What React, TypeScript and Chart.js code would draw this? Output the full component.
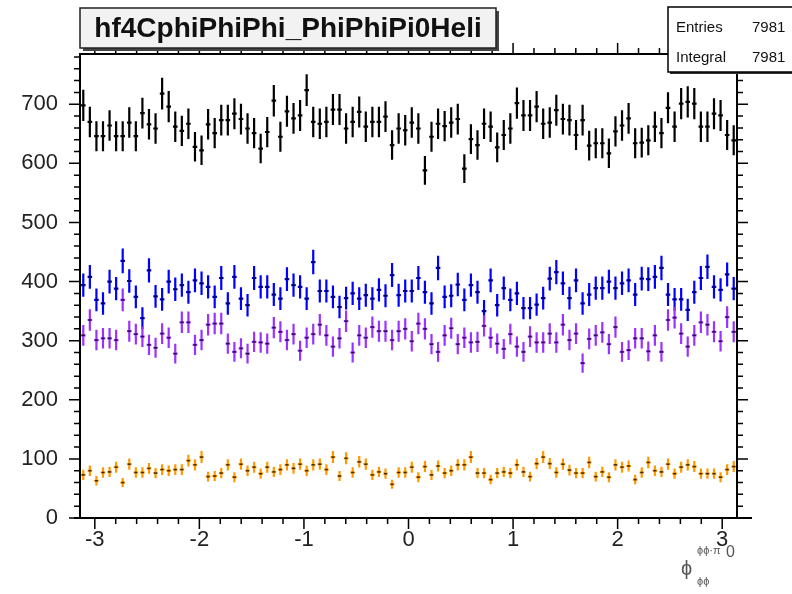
import React, { useEffect, useRef } from "react";
import { Chart, registerables } from "chart.js";

Chart.register(...registerables);

const N_BINS = 100;
const X_MIN = -Math.PI;
const X_MAX = Math.PI;
const Y_MIN = 0;
const Y_MAX = 785;
const xTickValues = [-3, -2, -1, 0, 1, 2, 3];
const yTickValues = [0, 100, 200, 300, 400, 500, 600, 700];
const titleText = "hf4CphiPhiPhi_PhiPhiPi0Heli";
const statsLabels = ["Entries", "Integral"];
const statsValues = ["7981", "7981"];

const blackValues = [
  698, 670, 646, 646, 664, 646, 646, 669, 646, 685, 666, 659, 718, 696, 662, 655, 667, 628, 622, 666,
  651, 673, 673, 684, 675, 659, 651, 625, 653, 706, 645, 688, 676, 681, 724, 670, 667, 670, 691, 691,
  659, 670, 687, 662, 670, 670, 679, 631, 659, 656, 669, 659, 588, 645, 667, 663, 669, 675, 591, 641,
  631, 667, 662, 627, 648, 659, 702, 681, 681, 696, 667, 669, 690, 675, 673, 648, 673, 630, 634, 634,
  617, 654, 664, 676, 634, 635, 639, 662, 651, 694, 662, 701, 704, 701, 662, 662, 684, 681, 648, 639,
];
const blueValues = [
  394, 408, 369, 363, 400, 388, 435, 401, 374, 338, 419, 375, 370, 400, 387, 394, 382, 402, 397, 391,
  374, 406, 363, 408, 371, 360, 406, 391, 391, 378, 371, 404, 394, 391, 371, 433, 384, 384, 374, 357,
  372, 380, 371, 377, 371, 386, 376, 411, 377, 384, 384, 406, 382, 363, 423, 374, 376, 395, 369, 394,
  382, 350, 402, 360, 389, 369, 380, 355, 355, 361, 372, 405, 416, 397, 372, 402, 363, 378, 389, 389,
  400, 389, 397, 402, 378, 405, 404, 408, 423, 378, 370, 370, 352, 382, 406, 425, 391, 386, 412, 388,
];
const purpleValues = [
  309, 335, 301, 304, 304, 301, 369, 316, 311, 307, 293, 288, 312, 305, 278, 331, 331, 293, 301, 327,
  329, 329, 295, 281, 287, 278, 298, 297, 295, 322, 315, 301, 311, 283, 305, 311, 327, 309, 290, 304,
  333, 280, 309, 305, 323, 316, 316, 301, 316, 320, 299, 329, 320, 294, 281, 309, 321, 294, 305, 297,
  298, 325, 305, 295, 286, 311, 290, 281, 307, 297, 297, 312, 297, 327, 301, 312, 262, 303, 309, 314,
  294, 323, 281, 284, 304, 304, 282, 309, 281, 335, 339, 312, 290, 309, 331, 327, 315, 299, 340, 315,
];
const orangeValues = [
  73, 80, 63, 77, 78, 86, 60, 91, 77, 77, 84, 76, 82, 80, 82, 82, 97, 90, 103, 70,
  71, 76, 90, 69, 91, 80, 86, 75, 86, 78, 82, 90, 84, 91, 80, 90, 91, 82, 103, 71,
  101, 77, 95, 91, 73, 78, 75, 57, 77, 77, 86, 69, 87, 73, 88, 76, 80, 90, 90, 103,
  76, 76, 65, 76, 78, 76, 90, 78, 70, 92, 103, 92, 77, 91, 81, 76, 76, 94, 70, 78,
  69, 90, 86, 88, 65, 77, 94, 80, 78, 91, 75, 86, 90, 87, 75, 75, 75, 69, 82, 87,
];

const seriesValues = [blackValues, blueValues, purpleValues, orangeValues];
const seriesColors = ["#000000", "#0000ff", "#9933ff", "#ff9900"];

const BIN_W = (X_MAX - X_MIN) / N_BINS;
const binCenters = Array.from({ length: N_BINS }, (_, i) => X_MIN + (i + 0.5) * BIN_W);

const FONT = "'Liberation Sans', 'DejaVu Sans', Arial, sans-serif";

const rootPlugin = {
  id: "rootStyle",
  afterDatasetsDraw(chart: any) {
    const ctx = chart.ctx;
    const xs = chart.scales.x;
    const ys = chart.scales.y;
    ctx.save();
    chart.data.datasets.forEach((ds: any, di: number) => {
      const meta = chart.getDatasetMeta(di);
      const color = ds.borderColor;
      meta.data.forEach((el: any, j: number) => {
        const v = ds.data[j].y;
        const x = ds.data[j].x;
        const err = Math.sqrt(v);
        const px = el.x;
        const py = el.y;
        const yt = ys.getPixelForValue(v + err);
        const yb = ys.getPixelForValue(v - err);
        const hw = Math.abs(xs.getPixelForValue(x + BIN_W * 0.35) - px);
        ctx.strokeStyle = color;
        ctx.lineWidth = 2.2;
        ctx.beginPath();
        ctx.moveTo(px, yt);
        ctx.lineTo(px, yb);
        ctx.moveTo(px - hw, py);
        ctx.lineTo(px + hw, py);
        ctx.stroke();
        if (di > 0) {
          ctx.strokeStyle = "rgba(0,0,0,0.75)";
          ctx.lineWidth = 1.5;
          ctx.beginPath();
          ctx.moveTo(px - 1.5, py);
          ctx.lineTo(px + 1.5, py);
          ctx.stroke();
        }
      });
    });
    ctx.restore();
  },
  afterDraw(chart: any) {
    const ctx = chart.ctx;
    const a = chart.chartArea;
    const xs = chart.scales.x;
    const ys = chart.scales.y;
    ctx.save();
    ctx.strokeStyle = "#000";
    ctx.lineWidth = 2;
    ctx.strokeRect(a.left, a.top, a.right - a.left, a.bottom - a.top);
    ctx.beginPath();
    ctx.moveTo(a.left - 6, a.bottom);
    ctx.lineTo(a.right + 15, a.bottom);
    ctx.stroke();
    ctx.lineWidth = 1.5;
    ctx.beginPath();
    // x ticks (bottom + top), outward
    for (let k = -16; k <= 16; k++) {
      const v = k * 0.2;
      if (v < X_MIN || v > X_MAX) continue;
      const major = Math.abs(v - Math.round(v)) < 1e-6;
      const len = major ? 11 : 6;
      const px = xs.getPixelForValue(v);
      ctx.moveTo(px, a.bottom);
      ctx.lineTo(px, a.bottom + len);
      ctx.moveTo(px, a.top);
      ctx.lineTo(px, a.top - len);
    }
    // y ticks (left + right), outward
    for (let v = 0; v <= Y_MAX; v += 20) {
      const major = v % 100 === 0;
      const len = major ? 11 : 6;
      const py = ys.getPixelForValue(v);
      ctx.moveTo(a.left, py);
      ctx.lineTo(a.left - len, py);
      ctx.moveTo(a.right, py);
      ctx.lineTo(a.right + len, py);
    }
    ctx.stroke();

    // title box
    const tx = 80, ty = 8, tw = 416, th = 40;
    ctx.fillStyle = "#444";
    ctx.fillRect(tx + 3, ty + 3, tw, th);
    ctx.fillStyle = "#f2f2f2";
    ctx.fillRect(tx, ty, tw, th);
    ctx.lineWidth = 1.5;
    ctx.strokeStyle = "#222";
    ctx.strokeRect(tx, ty, tw, th);
    ctx.fillStyle = "#111";
    ctx.font = `bold 28px ${FONT}`;
    ctx.textAlign = "center";
    ctx.textBaseline = "middle";
    ctx.fillText(titleText, tx + tw / 2, ty + th / 2 + 1);

    // stats box
    const sx = 668, sy = 7, sw = 140, sh = 65;
    ctx.fillStyle = "#333";
    ctx.fillRect(sx + 2, sy + 2, sw, sh);
    ctx.fillStyle = "#ffffff";
    ctx.fillRect(sx, sy, sw, sh);
    ctx.strokeStyle = "#000";
    ctx.lineWidth = 1.5;
    ctx.strokeRect(sx, sy, sw, sh);
    ctx.fillStyle = "#111";
    ctx.font = `15px ${FONT}`;
    ctx.textAlign = "left";
    ctx.textBaseline = "alphabetic";
    statsLabels.forEach((lab, i) => {
      const by = sy + 25 + i * 30;
      ctx.fillText(lab, sx + 8, by);
      ctx.fillText(statsValues[i], sx + 84, by);
    });

    // x axis title
    ctx.fillStyle = "#555";
    ctx.font = `20px ${FONT}`;
    ctx.fillText("\u03d5", 681, 575);
    ctx.font = `11px ${FONT}`;
    ctx.fillText("\u03d5\u03d5\u00b7\u03c0", 697, 554);
    ctx.font = `16px ${FONT}`;
    ctx.fillText("0", 726, 557);
    ctx.font = `11px ${FONT}`;
    ctx.fillText("\u03d5\u03d5", 697, 585);
    ctx.restore();
  },
};

export default function App() {
  const canvasRef = useRef<HTMLCanvasElement | null>(null);
  useEffect(() => {
    const canvas = canvasRef.current;
    if (!canvas) return;
    const datasets = seriesValues.map((vals, si) => ({
      label: `s${si}`,
      data: vals.map((v, i) => ({ x: binCenters[i], y: v })),
      borderColor: seriesColors[si],
      backgroundColor: seriesColors[si],
      pointRadius: 0,
      showLine: false,
    }));
    const tickFont = { family: FONT, size: 22 };
    const chart = new Chart(canvas, {
      type: "scatter",
      data: { datasets },
      options: {
        responsive: false,
        animation: false,
        devicePixelRatio: 1,
        layout: { padding: { top: 54, right: 55, bottom: 0, left: 0 } },
        plugins: { legend: { display: false }, tooltip: { enabled: false } },
        scales: {
          x: {
            type: "linear",
            min: X_MIN,
            max: X_MAX,
            grid: { display: false, drawTicks: false },
            border: { display: false },
            afterBuildTicks: (s: any) => {
              s.ticks = xTickValues.map((v) => ({ value: v }));
            },
            afterFit: (s: any) => {
              s.height = 76;
            },
            ticks: {
              padding: 9,
              font: tickFont,
              color: "#222",
              maxRotation: 0,
              autoSkip: false,
              callback: (v: any) => String(v),
            },
          },
          y: {
            type: "linear",
            min: Y_MIN,
            max: Y_MAX,
            grid: { display: false, drawTicks: false },
            border: { display: false },
            afterBuildTicks: (s: any) => {
              s.ticks = yTickValues.map((v) => ({ value: v }));
            },
            afterFit: (s: any) => {
              s.width = 80;
            },
            ticks: {
              padding: 22,
              font: tickFont,
              color: "#222",
              autoSkip: false,
              callback: (v: any) => String(v),
            },
          },
        },
      },
      plugins: [rootPlugin],
    } as any);
    return () => chart.destroy();
  }, []);
  return (
    <div style={{ position: "absolute", left: 0, top: 0, width: 792, height: 594, background: "#fff" }}>
      <canvas ref={canvasRef} width={792} height={594} />
    </div>
  );
}
